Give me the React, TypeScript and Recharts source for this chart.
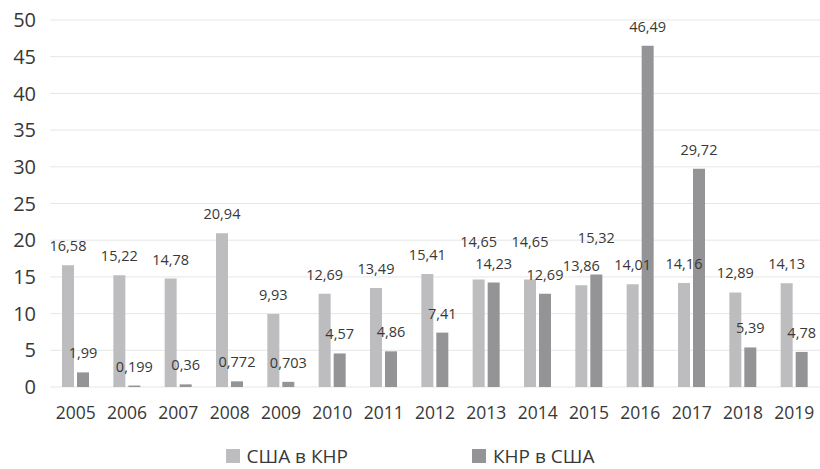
import { BarChart, Bar, XAxis, YAxis, CartesianGrid, Legend, LabelList } from 'recharts';

const years = ['2005', '2006', '2007', '2008', '2009', '2010', '2011', '2012', '2013', '2014', '2015', '2016', '2017', '2018', '2019'];
const usInChina = [16.58, 15.22, 14.78, 20.94, 9.93, 12.69, 13.49, 15.41, 14.65, 14.65, 13.86, 14.01, 14.16, 12.89, 14.13];
const chinaInUs = [1.99, 0.199, 0.36, 0.772, 0.703, 4.57, 4.86, 7.41, 14.23, 12.69, 15.32, 46.49, 29.72, 5.39, 4.78];
const yTicks = [0, 5, 10, 15, 20, 25, 30, 35, 40, 45, 50];

const LIGHT = '#bdbdc0';
const DARK = '#949497';
const TEXT = '#383838';
const FONT = '"Open Sans", "DejaVu Sans", sans-serif';

const data = years.map((year, i) => ({
  year,
  us: usInChina[i],
  cn: chinaInUs[i],
}));

const fmt = (v: number) => String(v).replace('.', ',');

// when the two bars of a year are about the same height, lift the taller one's label
const makeLabel = (own: number[], other: number[]) => (props: any) => {
  const { x, y, width, index } = props;
  const a = own[index];
  const b = other[index];
  const lift = Math.abs(a - b) < 2.5 && a >= b ? 18 : 0;
  return (
    <text
      x={x + width / 2}
      y={y - 14 - lift}
      textAnchor="middle"
      fill={TEXT}
      fontSize={14.5}
      fontFamily={FONT}
    >
      {fmt(a)}
    </text>
  );
};

const LegendContent = () => (
  <div style={{ display: 'flex', justifyContent: 'center', gap: 124, fontFamily: FONT, fontSize: 19, color: TEXT }}>
    {[
      { name: 'США в КНР', color: LIGHT },
      { name: 'КНР в США', color: DARK },
    ].map((item) => (
      <div key={item.name} style={{ display: 'flex', alignItems: 'center' }}>
        <span style={{ width: 14, height: 14, background: item.color, display: 'inline-block', marginRight: 7 }} />
        <span>{item.name}</span>
      </div>
    ))}
  </div>
);

export default function App() {
  return (
    <div style={{ position: 'absolute', left: 0, top: 0, width: 820, height: 469, background: '#fff' }}>
      <BarChart
        width={820}
        height={469}
        data={data}
        margin={{ top: 20, right: 0, left: 0, bottom: 0 }}
        barGap={3}
        barSize={12}
      >
        <CartesianGrid vertical={false} stroke="#e6e6e6" />
        <XAxis
          dataKey="year"
          axisLine={false}
          tickLine={false}
          tickSize={0}
          tickMargin={20}
          height={30}
          tick={{ fill: TEXT, fontSize: 17.5, fontFamily: FONT }}
        />
        <YAxis
          domain={[0, 50]}
          ticks={yTicks}
          axisLine={false}
          tickLine={false}
          tickSize={0}
          tickMargin={14}
          width={50}
          tick={{ fill: TEXT, fontSize: 20, fontFamily: FONT }}
        />
        <Legend verticalAlign="bottom" height={26} content={<LegendContent />} wrapperStyle={{ paddingTop: 26 }} />
        <Bar dataKey="us" name="США в КНР" fill={LIGHT} isAnimationActive={false}>
          <LabelList dataKey="us" content={makeLabel(usInChina, chinaInUs)} />
        </Bar>
        <Bar dataKey="cn" name="КНР в США" fill={DARK} isAnimationActive={false}>
          <LabelList dataKey="cn" content={makeLabel(chinaInUs, usInChina)} />
        </Bar>
      </BarChart>
    </div>
  );
}
